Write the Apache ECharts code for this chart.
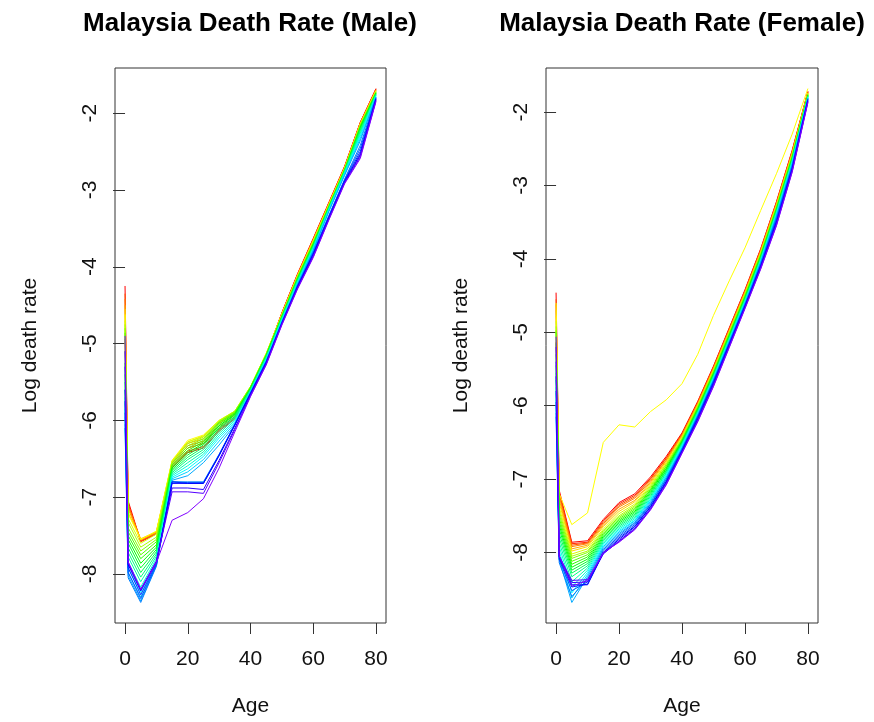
<!DOCTYPE html>
<html>
<head>
<meta charset="utf-8">
<script src="https://cdn.jsdelivr.net/npm/echarts@6/dist/echarts.min.js"></script>
<style>
  html, body { margin: 0; padding: 0; background: #ffffff; }
  #chart { width: 874px; height: 722px; }
</style>
</head>
<body>
<div id="chart"></div>
<script>
// Age groups on the x axis
const ages = [0, 1, 5, 10, 15, 20, 25, 30, 35, 40, 45, 50, 55, 60, 65, 70, 75, 80];
const xTicks = [0, 20, 40, 60, 80];
const yTicks = [-8, -7, -6, -5, -4, -3, -2];

// Log death rates. One row per age group; within a row, one value per year, earliest year first.
const maleLogRate = [
  /* 0  */ [-4.25,-4.94,-4.35,-4.42,-4.50,-4.55,-4.62, -4.70,-4.75,-4.80,-4.86,-5.10,-5.25,-5.40, -5.50,-5.60,-5.70,-5.78,-5.85,-5.95,-6.05, -6.10,-5.90,-5.75,-5.60,-5.30,-5.10,-4.90],
  /* 1  */ [-7.05,-7.08,-7.10,-7.12,-7.15,-7.20,-7.22, -7.28,-7.33,-7.40,-7.45,-7.50,-7.55,-7.60, -7.66,-7.72,-7.78,-7.85,-7.92,-7.98,-8.02, -8.05,-7.98,-7.92,-7.88,-7.86,-7.85,-7.84],
  /* 5  */ [-7.57,-7.58,-7.56,-7.55,-7.56,-7.54,-7.55, -7.60,-7.65,-7.70,-7.75,-7.80,-7.86,-7.92, -7.98,-8.04,-8.10,-8.17,-8.24,-8.30,-8.35, -8.37,-8.32,-8.27,-8.22,-8.20,-8.21,-8.20],
  /* 10 */ [-7.47,-7.48,-7.46,-7.45,-7.46,-7.45,-7.44, -7.48,-7.52,-7.55,-7.58,-7.62,-7.65,-7.68, -7.71,-7.74,-7.77,-7.80,-7.84,-7.87,-7.89, -7.90,-7.88,-7.86,-7.84,-7.83,-7.84,-7.85],
  /* 15 */ [-6.62,-6.60,-6.58,-6.56,-6.54,-6.53,-6.52, -6.53,-6.55,-6.56,-6.58,-6.60,-6.62,-6.64, -6.66,-6.68,-6.70,-6.72,-6.74,-6.76,-6.78, -6.80,-6.80,-6.80,-6.82,-6.88,-6.93,-7.30],
  /* 20 */ [-6.42,-6.40,-6.36,-6.33,-6.30,-6.28,-6.26, -6.28,-6.30,-6.33,-6.36,-6.39,-6.42,-6.45, -6.48,-6.51,-6.55,-6.59,-6.63,-6.67,-6.72, -6.80,-6.81,-6.82,-6.82,-6.88,-6.93,-7.20],
  /* 25 */ [-6.36,-6.34,-6.30,-6.27,-6.24,-6.21,-6.19, -6.20,-6.22,-6.24,-6.26,-6.28,-6.30,-6.32, -6.35,-6.38,-6.41,-6.44,-6.47,-6.51,-6.55, -6.80,-6.81,-6.82,-6.82,-6.90,-6.95,-7.02],
  /* 30 */ [-6.14,-6.12,-6.10,-6.07,-6.04,-6.02,-6.00, -6.00,-6.01,-6.02,-6.03,-6.05,-6.07,-6.09, -6.11,-6.14,-6.17,-6.20,-6.23,-6.27,-6.32, -6.44,-6.45,-6.45,-6.46,-6.52,-6.55,-6.62],
  /* 35 */ [-5.98,-5.97,-5.95,-5.93,-5.91,-5.90,-5.88, -5.88,-5.88,-5.89,-5.90,-5.91,-5.92,-5.93, -5.95,-5.96,-5.98,-6.00,-6.02,-6.04,-6.06, -6.05,-6.05,-6.06,-6.06,-6.10,-6.12,-6.15],
  /* 40 */ [-5.62,-5.61,-5.60,-5.59,-5.58,-5.57,-5.56, -5.56,-5.56,-5.57,-5.57,-5.58,-5.58,-5.59, -5.60,-5.60,-5.61,-5.62,-5.63,-5.64,-5.65, -5.64,-5.64,-5.65,-5.65,-5.67,-5.68,-5.69],
  /* 45 */ [-5.16,-5.15,-5.15,-5.14,-5.14,-5.13,-5.13, -5.13,-5.14,-5.14,-5.15,-5.15,-5.16,-5.16, -5.17,-5.18,-5.19,-5.20,-5.21,-5.22,-5.23, -5.23,-5.24,-5.24,-5.25,-5.26,-5.27,-5.28],
  /* 50 */ [-4.60,-4.60,-4.61,-4.61,-4.62,-4.62,-4.62, -4.63,-4.63,-4.64,-4.64,-4.65,-4.65,-4.66, -4.67,-4.67,-4.68,-4.69,-4.70,-4.71,-4.72, -4.72,-4.73,-4.73,-4.74,-4.74,-4.75,-4.76],
  /* 55 */ [-4.09,-4.10,-4.10,-4.11,-4.11,-4.12,-4.12, -4.13,-4.13,-4.14,-4.14,-4.15,-4.16,-4.16, -4.17,-4.18,-4.19,-4.20,-4.21,-4.22,-4.23, -4.24,-4.25,-4.25,-4.26,-4.27,-4.28,-4.29],
  /* 60 */ [-3.63,-3.64,-3.64,-3.65,-3.66,-3.66,-3.67, -3.67,-3.68,-3.69,-3.70,-3.70,-3.71,-3.72, -3.73,-3.74,-3.75,-3.76,-3.77,-3.78,-3.79, -3.81,-3.82,-3.83,-3.84,-3.86,-3.87,-3.88],
  /* 65 */ [-3.16,-3.17,-3.17,-3.18,-3.18,-3.19,-3.19, -3.20,-3.20,-3.21,-3.21,-3.22,-3.22,-3.23, -3.23,-3.24,-3.25,-3.25,-3.26,-3.27,-3.28, -3.33,-3.34,-3.35,-3.36,-3.37,-3.38,-3.39],
  /* 70 */ [-2.69,-2.70,-2.70,-2.71,-2.71,-2.72,-2.72, -2.72,-2.73,-2.73,-2.74,-2.74,-2.75,-2.75, -2.76,-2.76,-2.77,-2.78,-2.79,-2.80,-2.81, -2.86,-2.87,-2.88,-2.89,-2.90,-2.91,-2.92],
  /* 75 */ [-2.12,-2.12,-2.13,-2.13,-2.14,-2.14,-2.15, -2.15,-2.16,-2.16,-2.17,-2.18,-2.19,-2.20, -2.22,-2.24,-2.26,-2.28,-2.30,-2.33,-2.36, -2.42,-2.46,-2.50,-2.53,-2.55,-2.57,-2.59],
  /* 80 */ [-1.68,-1.69,-1.69,-1.70,-1.70,-1.71,-1.71, -1.72,-1.72,-1.73,-1.73,-1.74,-1.74,-1.75, -1.75,-1.76,-1.77,-1.77,-1.78,-1.79,-1.79, -1.80,-1.81,-1.81,-1.82,-1.83,-1.84,-1.85]
];

const femaleLogRate = [
  /* 0  */ [-4.46,-5.13,-4.55,-4.62,-4.70,-4.78,-4.60, -4.85,-4.92,-4.97,-5.00,-5.15,-5.30,-5.45, -5.55,-5.65,-5.75,-5.83,-5.92,-6.00,-6.10, -6.15,-5.95,-5.80,-5.60,-5.40,-5.20,-5.06],
  /* 1  */ [-7.15,-7.18,-7.20,-7.24,-7.28,-7.32,-7.20, -7.38,-7.43,-7.48,-7.53,-7.58,-7.63,-7.68, -7.74,-7.80,-7.86,-7.92,-7.98,-8.04,-8.10, -8.14,-8.10,-8.08,-8.06,-8.05,-8.05,-8.04],
  /* 5  */ [-7.86,-7.88,-7.90,-7.92,-7.95,-7.98,-7.62, -8.02,-8.05,-8.08,-8.12,-8.16,-8.20,-8.24, -8.28,-8.33,-8.40,-8.47,-8.55,-8.62,-8.68, -8.60,-8.52,-8.47,-8.44,-8.41,-8.38,-8.46],
  /* 10 */ [-7.84,-7.86,-7.87,-7.88,-7.90,-7.92,-7.46, -7.95,-7.98,-8.00,-8.03,-8.06,-8.09,-8.12, -8.15,-8.18,-8.21,-8.24,-8.27,-8.30,-8.33, -8.36,-8.40,-8.43,-8.44,-8.40,-8.37,-8.38],
  /* 15 */ [-7.55,-7.57,-7.59,-7.61,-7.63,-7.65,-6.50, -7.68,-7.70,-7.72,-7.74,-7.76,-7.78,-7.80, -7.82,-7.84,-7.86,-7.88,-7.90,-7.92,-7.94, -7.96,-7.98,-8.00,-8.01,-8.02,-8.01,-8.00],
  /* 20 */ [-7.32,-7.34,-7.36,-7.38,-7.41,-7.44,-6.26, -7.47,-7.50,-7.52,-7.54,-7.56,-7.58,-7.60, -7.62,-7.64,-7.66,-7.68,-7.70,-7.72,-7.74, -7.76,-7.78,-7.80,-7.82,-7.84,-7.85,-7.86],
  /* 25 */ [-7.20,-7.22,-7.24,-7.26,-7.29,-7.31,-6.29, -7.34,-7.36,-7.38,-7.40,-7.42,-7.44,-7.46, -7.48,-7.50,-7.52,-7.54,-7.56,-7.57,-7.59, -7.60,-7.62,-7.64,-7.65,-7.67,-7.68,-7.69],
  /* 30 */ [-6.97,-6.99,-7.00,-7.02,-7.04,-7.06,-6.08, -7.08,-7.10,-7.12,-7.14,-7.15,-7.17,-7.19, -7.21,-7.23,-7.25,-7.27,-7.28,-7.30,-7.32, -7.34,-7.35,-7.37,-7.38,-7.40,-7.41,-7.42],
  /* 35 */ [-6.69,-6.71,-6.72,-6.74,-6.75,-6.77,-5.92, -6.79,-6.80,-6.82,-6.83,-6.85,-6.86,-6.88, -6.89,-6.91,-6.92,-6.94,-6.95,-6.97,-6.98, -7.00,-7.01,-7.03,-7.04,-7.05,-7.07,-7.08],
  /* 40 */ [-6.37,-6.38,-6.39,-6.40,-6.41,-6.42,-5.70, -6.44,-6.45,-6.46,-6.47,-6.48,-6.49,-6.50, -6.51,-6.52,-6.53,-6.54,-6.55,-6.57,-6.58, -6.59,-6.60,-6.61,-6.62,-6.63,-6.64,-6.65],
  /* 45 */ [-5.94,-5.95,-5.96,-5.97,-5.98,-5.99,-5.30, -6.00,-6.01,-6.02,-6.03,-6.04,-6.05,-6.06, -6.07,-6.08,-6.09,-6.10,-6.11,-6.12,-6.13, -6.14,-6.15,-6.16,-6.18,-6.19,-6.21,-6.22],
  /* 50 */ [-5.46,-5.47,-5.48,-5.49,-5.50,-5.51,-4.77, -5.52,-5.53,-5.54,-5.55,-5.56,-5.57,-5.58, -5.59,-5.60,-5.61,-5.62,-5.63,-5.64,-5.65, -5.66,-5.67,-5.68,-5.70,-5.71,-5.73,-5.74],
  /* 55 */ [-4.94,-4.95,-4.96,-4.97,-4.98,-4.99,-4.30, -5.00,-5.01,-5.02,-5.03,-5.04,-5.05,-5.06, -5.07,-5.08,-5.09,-5.10,-5.11,-5.12,-5.13, -5.14,-5.15,-5.16,-5.17,-5.18,-5.20,-5.21],
  /* 60 */ [-4.42,-4.43,-4.44,-4.45,-4.46,-4.47,-3.85, -4.48,-4.49,-4.50,-4.51,-4.52,-4.53,-4.54, -4.55,-4.56,-4.57,-4.58,-4.59,-4.60,-4.61, -4.62,-4.63,-4.64,-4.65,-4.66,-4.67,-4.68],
  /* 65 */ [-3.86,-3.87,-3.88,-3.89,-3.90,-3.91,-3.34, -3.92,-3.93,-3.94,-3.95,-3.96,-3.97,-3.98, -3.99,-4.00,-4.01,-4.02,-4.03,-4.04,-4.05, -4.06,-4.08,-4.09,-4.10,-4.11,-4.13,-4.14],
  /* 70 */ [-3.22,-3.23,-3.24,-3.25,-3.26,-3.27,-2.84, -3.28,-3.29,-3.30,-3.31,-3.32,-3.33,-3.34, -3.35,-3.36,-3.37,-3.38,-3.40,-3.41,-3.42, -3.44,-3.46,-3.48,-3.50,-3.52,-3.54,-3.55],
  /* 75 */ [-2.52,-2.53,-2.54,-2.55,-2.56,-2.57,-2.30, -2.58,-2.59,-2.60,-2.61,-2.62,-2.63,-2.64, -2.65,-2.66,-2.67,-2.68,-2.69,-2.70,-2.72, -2.73,-2.75,-2.76,-2.78,-2.79,-2.81,-2.82],
  /* 80 */ [-1.72,-1.72,-1.73,-1.73,-1.74,-1.74,-1.68, -1.75,-1.75,-1.76,-1.76,-1.77,-1.77,-1.78, -1.78,-1.79,-1.79,-1.80,-1.80,-1.81,-1.81, -1.82,-1.82,-1.83,-1.84,-1.85,-1.86,-1.87]
];

const panelTitles = ['Malaysia Death Rate (Male)', 'Malaysia Death Rate (Female)'];
const xAxisName = 'Age';
const yAxisName = 'Log death rate';

const FONT = '"Liberation Sans", Arial, Helvetica, sans-serif';
const INK = '#111111';
const FRAME = '#333333';

// Rainbow palette from red (first year) through to violet (last year)
function rainbow(n) {
  const out = [];
  for (let i = 0; i < n; i++) {
    const hue = n > 1 ? (i * 270) / (n - 1) : 0;
    out.push('hsl(' + hue.toFixed(2) + ', 100%, 50%)');
  }
  return out;
}

// Axis limits padded by 4% of the data range on both sides
function paddedRange(lo, hi) {
  const p = (hi - lo) * 0.04;
  return [lo - p, hi + p];
}
function extent(rows) {
  let lo = Infinity, hi = -Infinity;
  rows.forEach(r => r.forEach(v => { if (v < lo) lo = v; if (v > hi) hi = v; }));
  return [lo, hi];
}

const panels = [
  { rows: maleLogRate, grid: { left: 115, top: 68, width: 271, height: 557 }, titleX: 250 },
  { rows: femaleLogRate, grid: { left: 546, top: 68, width: 272, height: 557 }, titleX: 682 }
];

const ageRange = paddedRange(ages[0], ages[ages.length - 1]);

const option = {
  animation: false,
  backgroundColor: '#ffffff',
  title: [],
  grid: [],
  xAxis: [],
  yAxis: [],
  series: []
};

panels.forEach((p, g) => {
  const nYears = p.rows[0].length;
  const colors = rainbow(nYears);
  const ext = extent(p.rows);
  const yRange = paddedRange(ext[0], ext[1]);

  option.title.push({
    text: panelTitles[g],
    left: p.titleX,
    top: 11,
    textAlign: 'center',
    padding: 0,
    textStyle: { fontFamily: FONT, fontSize: 26, fontWeight: 'bold', color: '#000' }
  });

  option.grid.push(Object.assign({
    show: true,
    borderColor: FRAME,
    borderWidth: 1,
    backgroundColor: 'transparent',
    containLabel: false
  }, p.grid));

  option.xAxis.push({
    type: 'value',
    gridIndex: g,
    min: ageRange[0],
    max: ageRange[1],
    axisLine: { show: false },
    splitLine: { show: false },
    axisTick: { show: true, customValues: xTicks, length: 11, lineStyle: { color: FRAME, width: 1 } },
    axisLabel: { customValues: xTicks, margin: 26, fontFamily: FONT, fontSize: 21, color: INK },
    name: xAxisName,
    nameLocation: 'middle',
    nameGap: 73,
    nameTextStyle: { fontFamily: FONT, fontSize: 21, color: INK }
  });

  option.yAxis.push({
    type: 'value',
    gridIndex: g,
    min: yRange[0],
    max: yRange[1],
    axisLine: { show: false },
    splitLine: { show: false },
    axisTick: { show: true, customValues: yTicks, length: 12, lineStyle: { color: FRAME, width: 1 } },
    axisLabel: { customValues: yTicks, rotate: 90, margin: 14, fontFamily: FONT, fontSize: 21, color: INK },
    name: yAxisName,
    nameLocation: 'middle',
    nameRotate: 90,
    nameGap: 74,
    nameTextStyle: { fontFamily: FONT, fontSize: 21, color: INK }
  });

  for (let j = 0; j < nYears; j++) {
    option.series.push({
      type: 'line',
      xAxisIndex: g,
      yAxisIndex: g,
      showSymbol: false,
      symbol: 'none',
      silent: true,
      clip: true,
      lineStyle: { width: 1, color: colors[j] },
      data: ages.map((a, k) => [a, p.rows[k][j]])
    });
  }
});

const chart = echarts.init(document.getElementById('chart'), null, { renderer: 'canvas' });
chart.setOption(option);
</script>
</body>
</html>
